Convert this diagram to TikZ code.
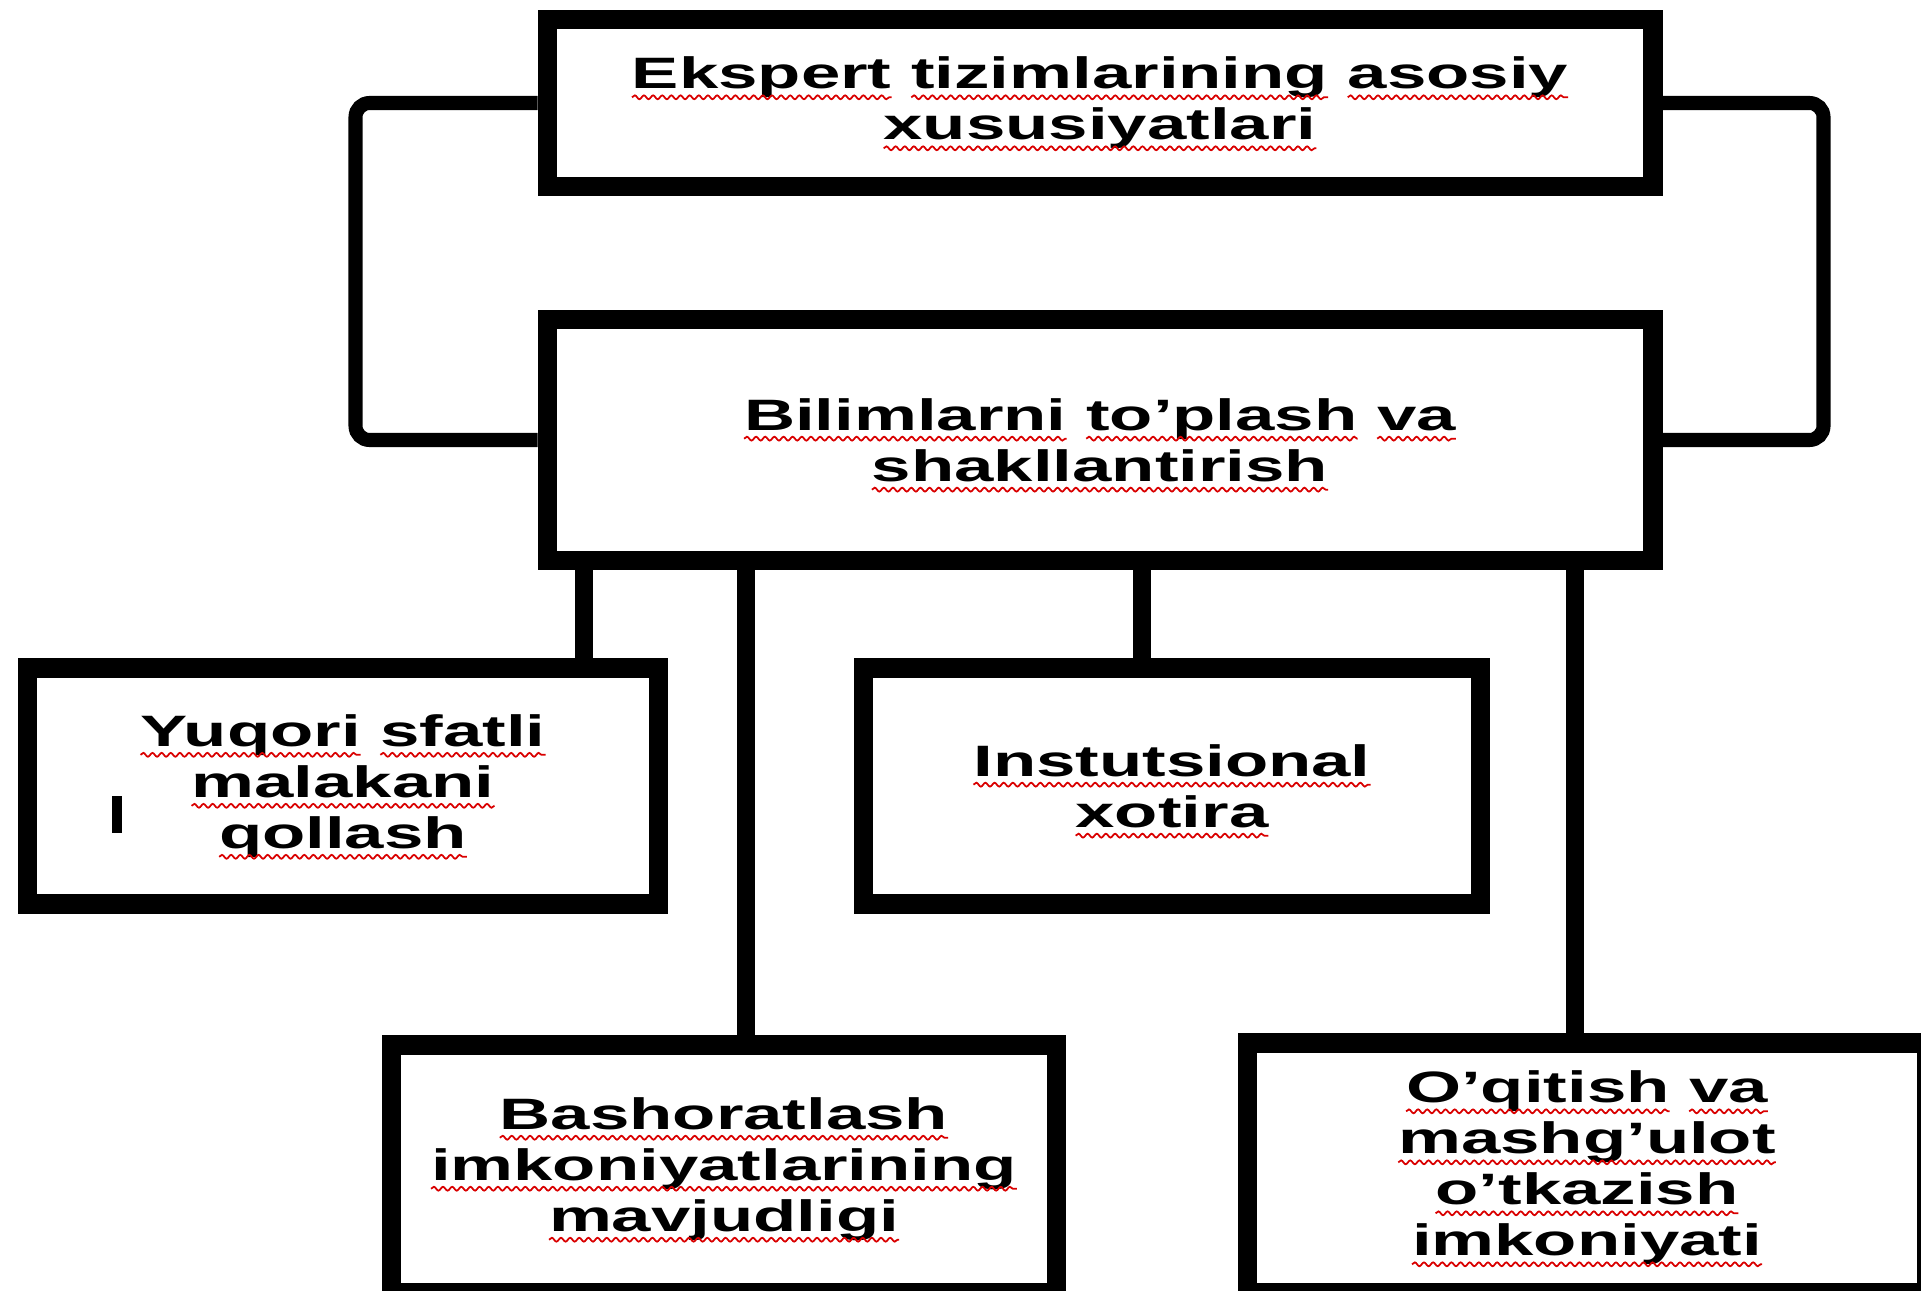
\documentclass[tikz,border=0pt]{standalone}
\usepackage{fontspec}
\usetikzlibrary{decorations.pathmorphing}
\newfontfamily\boxfont[FakeStretch=1.61]{Liberation Sans}
\newcommand\spell[1]{\tikz[baseline=(w.base)]{\node[draw=none,inner sep=0pt,outer sep=0pt,
    minimum width=0pt,minimum height=0pt] (w) {#1};
  \draw[spellmark] ([yshift=-2.4pt]w.base west) -- ([yshift=-2.4pt]w.base east);}}

\begin{document}
\begin{tikzpicture}
  [x=0.01cm,y=-0.01cm,
   every node/.style={rectangle,draw,line width=5.5pt,inner sep=0pt,align=center,
     font=\boxfont\bfseries\fontsize{12.5}{14.5}\selectfont},
   link/.style={line width=5pt},
   bracket/.style={line width=4pt,rounded corners=4pt},
   spellmark/.style={overlay,red!85!black,line width=0.5pt,decorate,
     decoration={snake,amplitude=0.55pt,segment length=2.6pt}}]
  \useasboundingbox (0,0) rectangle (1921,1291);

  \node[minimum width=11.05cm,minimum height=1.67cm] (n1) at (1100,103)
  {\spell{Ekspert} \spell{tizimlarining} \spell{asosiy}\\\spell{xususiyatlari}};
  \node[minimum width=11.05cm,minimum height=2.41cm] (n2) at (1100,440)
  {\spell{Bilimlarni} \spell{to’plash} \spell{va}\\\spell{shakllantirish}};
  \node[minimum width=6.3cm,minimum height=2.36cm] (n3) at (343,786)
  {\spell{Yuqori} \spell{sfatli}\\\spell{malakani}\\\spell{qollash}};
  \node[minimum width=6.17cm,minimum height=2.36cm] (n4) at (1172,786)
  {\spell{Instutsional}\\\spell{xotira}};
  \node[minimum width=6.64cm,minimum height=2.48cm] (n5) at (724,1169)
  {\spell{Bashoratlash}\\\spell{imkoniyatlarining}\\\spell{mavjudligi}};
  \node[minimum width=6.78cm,minimum height=2.50cm] (n6) at (1587,1168)
  {\spell{O’qitish} \spell{va}\\\spell{mashg’ulot}\\\spell{o’tkazish}\\\spell{imkoniyati}};

\draw[link] (n2.south -| 584,0) -- (n3.north -| 584,0);
\draw[link] (n2.south -| 746,0) -- (n5.north -| 746,0);
\draw[link] (n2.south -| 1142,0) -- (n4.north -| 1142,0);
\draw[link] (n2.south -| 1575,0) -- (n6.north -| 1575,0);

\draw[bracket] (n1.west) -- ++(-182,0) |- (n2.west);
\draw[bracket] (n1.east) -- ++(161,0) |- (n2.east);

% cursor mark
\draw[line width=2.8pt] (117,796) -- (117,833);

\end{tikzpicture}
\end{document}
